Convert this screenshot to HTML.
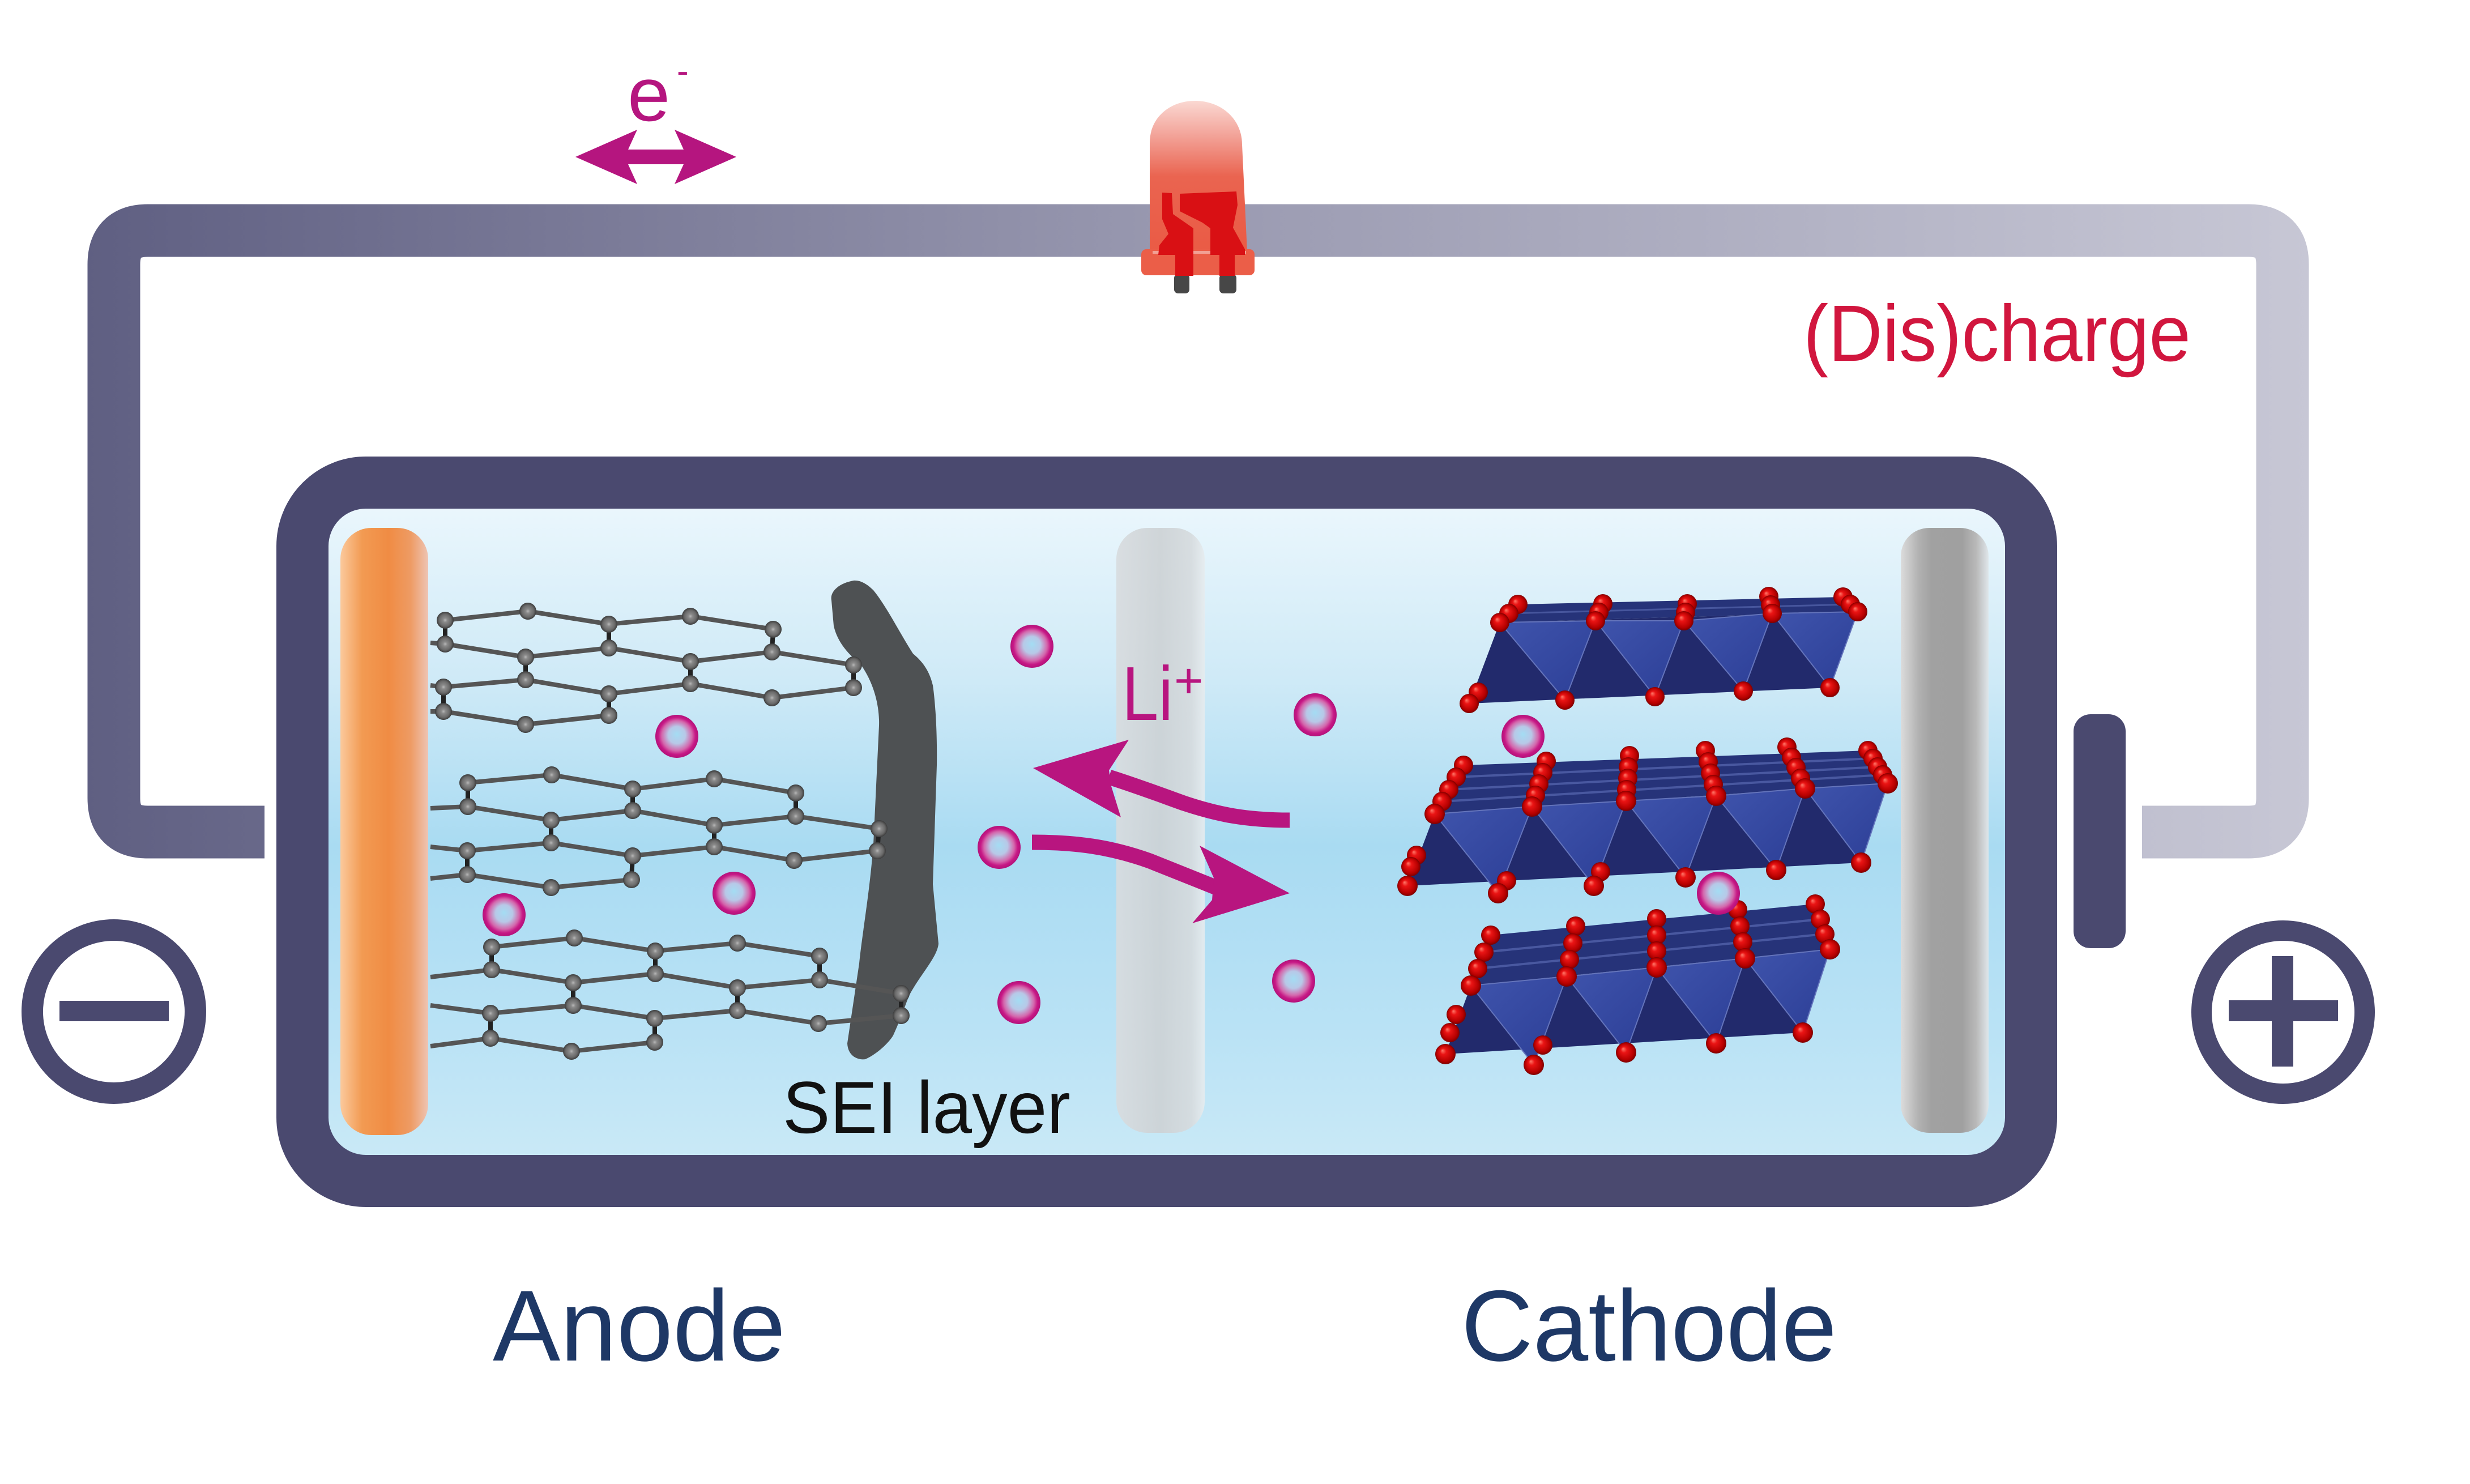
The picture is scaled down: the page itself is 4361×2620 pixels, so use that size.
<!DOCTYPE html>
<html>
<head>
<meta charset="utf-8">
<style>
html,body{margin:0;padding:0;background:#fff;}
svg{display:block;}
</style>
</head>
<body>
<svg xmlns="http://www.w3.org/2000/svg" width="4361" height="2620" viewBox="0 0 4361 2620">
<defs>
  <linearGradient id="wire" gradientUnits="userSpaceOnUse" x1="150" y1="0" x2="4080" y2="0">
    <stop offset="0" stop-color="#5f5f82"/>
    <stop offset="0.5" stop-color="#9a9ab1"/>
    <stop offset="1" stop-color="#c7c7d5"/>
  </linearGradient>
  <linearGradient id="interior" x1="0" y1="0" x2="0" y2="1">
    <stop offset="0" stop-color="#eef8fd"/>
    <stop offset="0.28" stop-color="#cfeaf7"/>
    <stop offset="0.52" stop-color="#a9dbf2"/>
    <stop offset="0.78" stop-color="#b9e2f5"/>
    <stop offset="1" stop-color="#cceaf7"/>
  </linearGradient>
  <linearGradient id="orange" x1="0" y1="0" x2="1" y2="0">
    <stop offset="0" stop-color="#fbc99c"/>
    <stop offset="0.25" stop-color="#f29a52"/>
    <stop offset="0.55" stop-color="#f08c44"/>
    <stop offset="0.8" stop-color="#ee9b64"/>
    <stop offset="1" stop-color="#eec4b4"/>
  </linearGradient>
  <linearGradient id="sep" x1="0" y1="0" x2="1" y2="0">
    <stop offset="0" stop-color="#d8dcdf"/>
    <stop offset="0.5" stop-color="#cdd2d5"/>
    <stop offset="0.85" stop-color="#d6dbde"/>
    <stop offset="1" stop-color="#e6ecef"/>
  </linearGradient>
  <linearGradient id="coll" x1="0" y1="0" x2="1" y2="0">
    <stop offset="0" stop-color="#dcdcdc"/>
    <stop offset="0.2" stop-color="#b2b2b2"/>
    <stop offset="0.35" stop-color="#a1a1a1"/>
    <stop offset="0.7" stop-color="#a0a0a0"/>
    <stop offset="0.86" stop-color="#b9b9b9"/>
    <stop offset="1" stop-color="#dfe6ea"/>
  </linearGradient>
  <radialGradient id="li" cx="0.5" cy="0.5" r="0.5" fx="0.5" fy="0.45">
    <stop offset="0" stop-color="#a4dcf3"/>
    <stop offset="0.4" stop-color="#b8c8e7"/>
    <stop offset="0.7" stop-color="#d467ac"/>
    <stop offset="0.86" stop-color="#c71986"/>
    <stop offset="1" stop-color="#b3117a"/>
  </radialGradient>
  <radialGradient id="gn" cx="0.5" cy="0.5" r="0.5" fx="0.5" fy="0.5">
    <stop offset="0" stop-color="#b8b8b8"/>
    <stop offset="0.25" stop-color="#8a8a8a"/>
    <stop offset="0.7" stop-color="#6a6a6a"/>
    <stop offset="1" stop-color="#3c3c3c"/>
  </radialGradient>
  <radialGradient id="rg" cx="0.5" cy="0.5" r="0.5" fx="0.35" fy="0.32">
    <stop offset="0" stop-color="#ff7a6a"/>
    <stop offset="0.3" stop-color="#ea1414"/>
    <stop offset="0.8" stop-color="#b50000"/>
    <stop offset="1" stop-color="#7c0000"/>
  </radialGradient>
  <linearGradient id="face" x1="0" y1="0" x2="1" y2="1">
    <stop offset="0" stop-color="#3f54ac"/>
    <stop offset="1" stop-color="#2c3e96"/>
  </linearGradient>
  <linearGradient id="led" x1="0" y1="0" x2="0" y2="1">
    <stop offset="0" stop-color="#fad8d2"/>
    <stop offset="0.22" stop-color="#f3a59b"/>
    <stop offset="0.5" stop-color="#ea6450"/>
    <stop offset="1" stop-color="#ea5b45"/>
  </linearGradient>
</defs>

<!-- external wire -->
<path d="M467,1469 L261,1469 Q201,1469 201,1409 L201,467 Q201,407 261,407 L3970,407 Q4030,407 4030,467 L4030,1409 Q4030,1469 3970,1469 L3782,1469" fill="none" stroke="url(#wire)" stroke-width="93" stroke-linejoin="round"/>

<!-- LED -->
<path d="M2030,445 L2030,252 C2030,207 2066,178 2110,178 C2156,178 2193,210 2193,255 L2202,445 Z" fill="url(#led)"/>
<rect x="2073" y="484" width="27" height="34" rx="7" fill="#474747"/>
<rect x="2153" y="484" width="30" height="34" rx="7" fill="#474747"/>
<rect x="2015" y="440" width="200" height="46" rx="9" fill="#eb5e48"/>
<rect x="2035" y="443" width="165" height="5" fill="#f2a094"/>
<polygon points="2052,340 2069,341 2071,378 2107,403 2107,487 2075,487 2075,450 2045,450 2047,433 2063,413 2052,387" fill="#d91014"/>
<polygon points="2083,342 2183,338 2185,362 2177,402 2198,440 2198,450 2180,450 2180,487 2153,487 2153,450 2137,450 2137,403 2123,393 2083,373" fill="#d91014"/>

<!-- e- arrow -->
<polygon points="1016,277 1125,229 1109,264 1207,264 1191,229 1300,277 1191,325 1207,290 1109,290 1125,325" fill="#b5157f"/>
<text x="1108" y="213" font-family="Liberation Sans, sans-serif" font-size="135" fill="#b5157f">e</text>
<text x="1195" y="146" font-family="Liberation Sans, sans-serif" font-size="62" fill="#b5157f">-</text>

<!-- (Dis)charge -->
<text x="3184" y="637" font-family="Liberation Sans, sans-serif" font-size="141" fill="#d1163e" textLength="684" lengthAdjust="spacingAndGlyphs">(Dis)charge</text>

<!-- battery casing -->
<rect x="534" y="852" width="3052" height="1233" rx="112" ry="112" fill="url(#interior)" stroke="#4a496f" stroke-width="92"/>
<rect x="3661" y="1261" width="92" height="413" rx="30" fill="#4a496f"/>

<!-- terminals -->
<circle cx="201" cy="1786" r="144" fill="none" stroke="#4a496f" stroke-width="38"/>
<rect x="105" y="1767" width="193" height="36" fill="#4a496f"/>
<circle cx="4031" cy="1787" r="144" fill="none" stroke="#4a496f" stroke-width="36"/>
<rect x="3935" y="1766" width="193" height="37" fill="#4a496f"/>
<rect x="4011" y="1688" width="38" height="195" fill="#4a496f"/>

<!-- current collectors and separator -->
<rect x="601" y="932" width="155" height="1072" rx="55" fill="url(#orange)"/>
<rect x="1971" y="932" width="156" height="1068" rx="55" fill="url(#sep)" opacity="0.92"/>
<rect x="3356" y="932" width="155" height="1068" rx="50" fill="url(#coll)"/>

<!-- SEI -->
<path d="M1507,1025 C1480,1030 1465,1045 1468,1060 L1472,1105 C1480,1140 1505,1160 1521,1175 C1545,1210 1553,1250 1552,1281 L1542,1491 C1535,1580 1522,1650 1517,1701 L1496,1842 C1497,1865 1515,1872 1528,1870 C1550,1860 1570,1840 1577,1828 C1590,1800 1600,1770 1605,1758 C1625,1720 1655,1690 1657,1666 L1647,1561 L1654,1351 C1655,1280 1650,1230 1647,1210 C1640,1180 1625,1165 1612,1154 C1590,1120 1565,1070 1542,1042 C1530,1030 1518,1024 1507,1025 Z" fill="#4e5153"/>

<!-- graphite -->
<g fill="none" stroke="#555555" stroke-width="8" stroke-linejoin="round">
  <polyline points="786,1095 932,1079 1075,1102 1219,1088 1365,1111"/>
  <polyline points="760,1135 786,1137 928,1160 1075,1144 1219,1168 1363,1151 1507,1174"/>
  <polyline points="760,1210 783,1213 928,1200 1075,1225 1219,1207 1363,1232 1507,1214"/>
  <polyline points="760,1256 783,1256 928,1279 1075,1263"/>
  <polyline points="826,1382 974,1368 1117,1393 1261,1375 1405,1400"/>
  <polyline points="760,1427 826,1424 973,1448 1117,1431 1261,1457 1405,1441 1552,1463"/>
  <polyline points="760,1495 825,1502 973,1488 1117,1511 1261,1495 1402,1519 1549,1502"/>
  <polyline points="760,1551 825,1544 973,1567 1115,1553"/>
  <polyline points="868,1672 1014,1656 1157,1679 1302,1665 1447,1688"/>
  <polyline points="760,1725 868,1712 1012,1735 1157,1719 1302,1744 1447,1730 1591,1754"/>
  <polyline points="760,1775 866,1789 1012,1775 1156,1798 1302,1784 1445,1807 1591,1793"/>
  <polyline points="760,1847 866,1833 1009,1856 1156,1840"/>
</g>
<g stroke="#222" stroke-width="8">
  <line x1="786" y1="1095" x2="786" y2="1137"/><line x1="1075" y1="1102" x2="1075" y2="1144"/><line x1="1365" y1="1111" x2="1363" y2="1151"/>
  <line x1="928" y1="1160" x2="928" y2="1200"/><line x1="1219" y1="1168" x2="1219" y2="1207"/><line x1="1507" y1="1174" x2="1507" y2="1214"/>
  <line x1="783" y1="1213" x2="783" y2="1256"/><line x1="1075" y1="1225" x2="1075" y2="1263"/>
  <line x1="826" y1="1382" x2="826" y2="1424"/><line x1="1117" y1="1393" x2="1117" y2="1431"/><line x1="1405" y1="1400" x2="1405" y2="1441"/>
  <line x1="973" y1="1448" x2="973" y2="1488"/><line x1="1261" y1="1457" x2="1261" y2="1495"/><line x1="1552" y1="1463" x2="1549" y2="1502"/>
  <line x1="825" y1="1502" x2="825" y2="1544"/><line x1="1117" y1="1511" x2="1115" y2="1553"/>
  <line x1="868" y1="1672" x2="868" y2="1712"/><line x1="1157" y1="1679" x2="1157" y2="1719"/><line x1="1447" y1="1688" x2="1447" y2="1730"/>
  <line x1="1012" y1="1735" x2="1012" y2="1775"/><line x1="1302" y1="1744" x2="1302" y2="1784"/><line x1="1591" y1="1754" x2="1591" y2="1793"/>
  <line x1="866" y1="1789" x2="866" y2="1833"/><line x1="1156" y1="1798" x2="1156" y2="1840"/>
</g>
<g fill="url(#gn)">
  <circle cx="786" cy="1095" r="15"/><circle cx="932" cy="1079" r="15"/><circle cx="1075" cy="1102" r="15"/><circle cx="1219" cy="1088" r="15"/><circle cx="1365" cy="1111" r="15"/>
  <circle cx="786" cy="1137" r="15"/><circle cx="928" cy="1160" r="15"/><circle cx="1075" cy="1144" r="15"/><circle cx="1219" cy="1168" r="15"/><circle cx="1363" cy="1151" r="15"/><circle cx="1507" cy="1174" r="15"/>
  <circle cx="783" cy="1213" r="15"/><circle cx="928" cy="1200" r="15"/><circle cx="1075" cy="1225" r="15"/><circle cx="1219" cy="1207" r="15"/><circle cx="1363" cy="1232" r="15"/><circle cx="1507" cy="1214" r="15"/>
  <circle cx="783" cy="1256" r="15"/><circle cx="928" cy="1279" r="15"/><circle cx="1075" cy="1263" r="15"/>
  <circle cx="826" cy="1382" r="15"/><circle cx="974" cy="1368" r="15"/><circle cx="1117" cy="1393" r="15"/><circle cx="1261" cy="1375" r="15"/><circle cx="1405" cy="1400" r="15"/>
  <circle cx="826" cy="1424" r="15"/><circle cx="973" cy="1448" r="15"/><circle cx="1117" cy="1431" r="15"/><circle cx="1261" cy="1457" r="15"/><circle cx="1405" cy="1441" r="15"/><circle cx="1552" cy="1463" r="15"/>
  <circle cx="825" cy="1502" r="15"/><circle cx="973" cy="1488" r="15"/><circle cx="1117" cy="1511" r="15"/><circle cx="1261" cy="1495" r="15"/><circle cx="1402" cy="1519" r="15"/><circle cx="1549" cy="1502" r="15"/>
  <circle cx="825" cy="1544" r="15"/><circle cx="973" cy="1567" r="15"/><circle cx="1115" cy="1553" r="15"/>
  <circle cx="868" cy="1672" r="15"/><circle cx="1014" cy="1656" r="15"/><circle cx="1157" cy="1679" r="15"/><circle cx="1302" cy="1665" r="15"/><circle cx="1447" cy="1688" r="15"/>
  <circle cx="868" cy="1712" r="15"/><circle cx="1012" cy="1735" r="15"/><circle cx="1157" cy="1719" r="15"/><circle cx="1302" cy="1744" r="15"/><circle cx="1447" cy="1730" r="15"/><circle cx="1591" cy="1754" r="15"/>
  <circle cx="866" cy="1789" r="15"/><circle cx="1012" cy="1775" r="15"/><circle cx="1156" cy="1798" r="15"/><circle cx="1302" cy="1784" r="15"/><circle cx="1445" cy="1807" r="15"/><circle cx="1591" cy="1793" r="15"/>
  <circle cx="866" cy="1833" r="15"/><circle cx="1009" cy="1856" r="15"/><circle cx="1156" cy="1840" r="15"/>
</g>

<!-- cathode layer 1 -->
<polygon points="2648,1099 3280,1080 3254,1054 2680,1067" fill="#263379"/>
<line x1="2664" y1="1083" x2="3267" y2="1067" stroke="#5565ad" stroke-width="3" opacity="0.7"/>
<polygon points="2648,1099 3280,1080 3231,1214 2594,1242" fill="#222a6c"/>
<g fill="url(#face)" stroke="#6474bb" stroke-width="2">
  <polygon points="2648,1099 2817,1096 2763,1236"/>
  <polygon points="2817,1096 2973,1096 2922,1230"/>
  <polygon points="2973,1096 3129,1083 3078,1220"/>
  <polygon points="3129,1083 3280,1080 3231,1214"/>
</g>
<g fill="url(#rg)">
  <circle cx="2680" cy="1067" r="17"/><circle cx="2664" cy="1083" r="17"/><circle cx="2648" cy="1099" r="17"/>
  <circle cx="2830" cy="1066" r="17"/><circle cx="2823" cy="1081" r="17"/><circle cx="2817" cy="1096" r="17"/>
  <circle cx="2979" cy="1066" r="17"/><circle cx="2976" cy="1081" r="17"/><circle cx="2973" cy="1096" r="17"/>
  <circle cx="3123" cy="1053" r="17"/><circle cx="3126" cy="1068" r="17"/><circle cx="3129" cy="1083" r="17"/>
  <circle cx="3254" cy="1054" r="17"/><circle cx="3267" cy="1067" r="17"/><circle cx="3280" cy="1080" r="17"/>
  <circle cx="2610" cy="1222" r="17"/><circle cx="2594" cy="1242" r="17"/><circle cx="2763" cy="1236" r="17"/><circle cx="2922" cy="1230" r="17"/><circle cx="3078" cy="1220" r="17"/><circle cx="3231" cy="1214" r="17"/>
</g>

<!-- cathode layer 2 -->
<polygon points="2533,1437 3333,1383 3298,1325 2584,1351" fill="#263379"/>
<g stroke="#5565ad" stroke-width="4" opacity="0.75">
  <line x1="2546" y1="1415" x2="3324" y2="1368"/><line x1="2558" y1="1394" x2="3315" y2="1354"/><line x1="2571" y1="1372" x2="3307" y2="1339"/>
</g>
<polygon points="2533,1437 3333,1383 3286,1523 2485,1564" fill="#222a6c"/>
<g fill="url(#face)" stroke="#6474bb" stroke-width="2">
  <polygon points="2533,1437 2705,1424 2645,1577"/>
  <polygon points="2705,1424 2871,1414 2814,1564"/>
  <polygon points="2871,1414 3030,1405 2976,1549"/>
  <polygon points="3030,1405 3187,1392 3136,1536"/>
  <polygon points="3187,1392 3333,1383 3286,1523"/>
</g>
<g fill="url(#rg)">
  <circle cx="2584" cy="1351" r="17"/><circle cx="2571" cy="1372" r="17"/><circle cx="2558" cy="1394" r="17"/><circle cx="2546" cy="1415" r="17"/><circle cx="2533" cy="1437" r="18"/>
  <circle cx="2730" cy="1344" r="17"/><circle cx="2724" cy="1364" r="17"/><circle cx="2717" cy="1384" r="17"/><circle cx="2711" cy="1404" r="17"/><circle cx="2705" cy="1424" r="18"/>
  <circle cx="2877" cy="1334" r="17"/><circle cx="2875" cy="1354" r="17"/><circle cx="2874" cy="1374" r="17"/><circle cx="2872" cy="1394" r="17"/><circle cx="2871" cy="1414" r="18"/>
  <circle cx="3011" cy="1325" r="17"/><circle cx="3016" cy="1345" r="17"/><circle cx="3020" cy="1365" r="17"/><circle cx="3025" cy="1385" r="17"/><circle cx="3030" cy="1405" r="18"/>
  <circle cx="3155" cy="1319" r="17"/><circle cx="3163" cy="1337" r="17"/><circle cx="3171" cy="1355" r="17"/><circle cx="3179" cy="1374" r="17"/><circle cx="3187" cy="1392" r="18"/>
  <circle cx="3298" cy="1325" r="17"/><circle cx="3307" cy="1339" r="17"/><circle cx="3315" cy="1354" r="17"/><circle cx="3324" cy="1368" r="17"/><circle cx="3333" cy="1383" r="18"/>
  <circle cx="2501" cy="1510" r="17"/><circle cx="2491" cy="1530" r="17"/><circle cx="2660" cy="1555" r="17"/><circle cx="2826" cy="1539" r="17"/>
  <circle cx="2485" cy="1564" r="18"/><circle cx="2645" cy="1577" r="18"/><circle cx="2814" cy="1564" r="18"/><circle cx="2976" cy="1549" r="18"/><circle cx="3136" cy="1536" r="18"/><circle cx="3286" cy="1523" r="18"/>
</g>

<!-- cathode layer 3 -->
<polygon points="2597,1740 3231,1676 3205,1596 2632,1651" fill="#263379"/>
<g stroke="#5565ad" stroke-width="4" opacity="0.75">
  <line x1="2609" y1="1710" x2="3222" y2="1649"/><line x1="2620" y1="1681" x2="3214" y2="1623"/>
</g>
<polygon points="2597,1740 3231,1676 3183,1823 2552,1861" fill="#222a6c"/>
<g fill="url(#face)" stroke="#6474bb" stroke-width="2">
  <polygon points="2597,1740 2766,1724 2708,1880"/>
  <polygon points="2766,1724 2925,1708 2871,1858"/>
  <polygon points="2925,1708 3081,1692 3030,1842"/>
  <polygon points="3081,1692 3231,1676 3183,1823"/>
</g>
<g fill="url(#rg)">
  <circle cx="2632" cy="1651" r="17"/><circle cx="2620" cy="1681" r="17"/><circle cx="2609" cy="1710" r="17"/><circle cx="2597" cy="1740" r="18"/>
  <circle cx="2782" cy="1635" r="17"/><circle cx="2777" cy="1665" r="17"/><circle cx="2771" cy="1694" r="17"/><circle cx="2766" cy="1724" r="18"/>
  <circle cx="2925" cy="1622" r="17"/><circle cx="2925" cy="1651" r="17"/><circle cx="2925" cy="1679" r="17"/><circle cx="2925" cy="1708" r="18"/>
  <circle cx="3068" cy="1606" r="17"/><circle cx="3072" cy="1635" r="17"/><circle cx="3077" cy="1663" r="17"/><circle cx="3081" cy="1692" r="18"/>
  <circle cx="3205" cy="1596" r="17"/><circle cx="3214" cy="1623" r="17"/><circle cx="3222" cy="1649" r="17"/><circle cx="3231" cy="1676" r="18"/>
  <circle cx="2571" cy="1791" r="17"/><circle cx="2560" cy="1823" r="17"/><circle cx="2724" cy="1845" r="17"/>
  <circle cx="2552" cy="1861" r="18"/><circle cx="2708" cy="1880" r="18"/><circle cx="2871" cy="1858" r="18"/><circle cx="3030" cy="1842" r="18"/><circle cx="3183" cy="1823" r="18"/>
</g>

<!-- Li ions -->
<g fill="url(#li)">
  <circle cx="1195" cy="1300" r="38"/><circle cx="1296" cy="1577" r="38"/><circle cx="890" cy="1615" r="38"/>
  <circle cx="1822" cy="1141" r="38"/><circle cx="2322" cy="1262" r="38"/><circle cx="1764" cy="1496" r="38"/>
  <circle cx="1799" cy="1770" r="38"/><circle cx="2284" cy="1732" r="38"/>
  <circle cx="2689" cy="1300" r="38"/><circle cx="3034" cy="1577" r="38"/>
</g>

<!-- Li+ arrows -->
<path d="M2277,1448 C2200,1448 2150,1438 2090,1418 C2040,1400 2000,1385 1958,1372" fill="none" stroke="#b8157f" stroke-width="27"/>
<polygon points="1824,1356 1993,1306 1958,1360 1962,1388 1979,1443" fill="#b8157f"/>
<path d="M1822,1487 C1900,1487 1960,1495 2030,1520 C2080,1540 2110,1552 2150,1568" fill="none" stroke="#b8157f" stroke-width="27"/>
<polygon points="2277,1577 2118,1493 2143,1550 2140,1589 2105,1630" fill="#b8157f"/>

<text x="1981" y="1271" font-family="Liberation Sans, sans-serif" font-size="135" fill="#b8157f" textLength="90" lengthAdjust="spacingAndGlyphs">Li</text>
<text x="2073" y="1232" font-family="Liberation Sans, sans-serif" font-size="88" fill="#b8157f">+</text>

<!-- labels -->
<text x="1382" y="2000" font-family="Liberation Sans, sans-serif" font-size="130" fill="#111" textLength="508" lengthAdjust="spacingAndGlyphs">SEI layer</text>
<text x="870" y="2402" font-family="Liberation Sans, sans-serif" font-size="178" fill="#1e3866" textLength="517" lengthAdjust="spacingAndGlyphs">Anode</text>
<text x="2580" y="2402" font-family="Liberation Sans, sans-serif" font-size="178" fill="#1e3866" textLength="663" lengthAdjust="spacingAndGlyphs">Cathode</text>
</svg>
</body>
</html>
